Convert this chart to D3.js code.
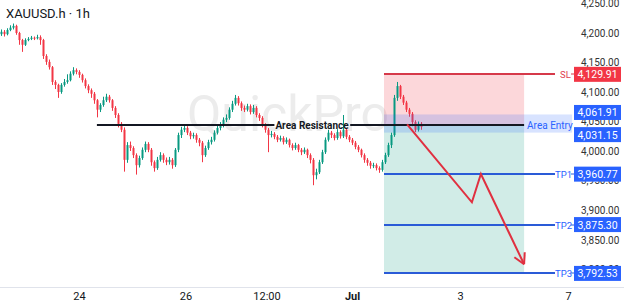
<!DOCTYPE html>
<html>
<head>
<meta charset="utf-8">
<title>XAUUSD.h 1h</title>
<style>
  body { margin:0; background:#fff; }
  svg { display:block; font-family: Roboto, "Noto Sans", sans-serif; }
</style>
</head>
<body>
<svg id="chart"></svg>
<script src="https://cdnjs.cloudflare.com/ajax/libs/d3/7.8.5/d3.min.js"></script>
<script>
// hourly candles, open = previous close
var firstOpen = 4198;
var closes = [4202,4198,4205,4209,4212,4200,4188,4180,4188,4190,4192,4191,4193,4188,4161,4151,4142,4117,4112,4100,
  4112,4117,4120,4131,4137,4134,4129,4120,4110,4103,4097,4086,4070,4078,4086,4092,4086,4073,4061,4046,
  4036,3985,4010,4005,3993,3976,3988,4002,4012,4002,3981,3971,3985,3993,3985,3981,3985,3976,4002,4027,
  4036,4039,4031,4025,4027,4019,4014,3993,4005,4015,4019,4031,4039,4044,4053,4056,4070,4080,4090,4081,
  4073,4070,4076,4066,4073,4061,4056,4044,4036,4027,4029,4024,4019,4022,4015,4019,4010,4005,4010,4002,
  3998,4002,3993,3985,3959,3964,3981,3998,4019,4031,4027,4022,4032,4025,4036,4024,4019,4014,4007,4002,
  3993,3985,3980,3975,3976,3971,3968,3981,3993,4010,4027,4090,4110,4092,4082,4070,4063,4049,4036,4046,4041];
var highs = [4206,4205,4208,4213,4216,4214,4202,4190,4191,4193,4195,4194,4197,4196,4190,4164,4155,4144,4120,4114,
  4115,4122,4130,4135,4142,4140,4137,4131,4123,4113,4106,4100,4088,4081,4092,4097,4095,4088,4076,4064,
  4049,4040,4015,4016,4008,3996,3992,4006,4016,4015,4005,3984,3990,3998,3996,3989,3990,3988,4005,4031,
  4041,4043,4042,4034,4031,4030,4022,4017,4009,4019,4024,4035,4043,4049,4057,4062,4074,4085,4095,4093,
  4084,4077,4080,4079,4078,4076,4064,4059,4047,4039,4034,4032,4027,4026,4025,4023,4021,4013,4014,4012,
  4005,4006,4004,3996,3988,3970,3985,4002,4023,4036,4034,4030,4037,4035,4061,4039,4027,4022,4017,4010,
  4004,3996,3988,3983,3980,3979,3974,3985,3997,4014,4031,4095,4117,4112,4095,4085,4073,4066,4052,4050,4049];
var lows = [4195,4194,4196,4203,4206,4197,4180,4168,4178,4186,4188,4188,4189,4180,4156,4146,4138,4112,4105,4090,
  4097,4109,4114,4118,4128,4130,4124,4116,4106,4098,4090,4080,4057,4066,4075,4083,4082,4068,4056,4040,
  4032,3965,3980,4000,3988,3960,3972,3985,3998,3998,3975,3965,3968,3982,3980,3976,3977,3970,3973,3998,
  4022,4032,4027,4020,4021,4014,4008,3981,3990,4002,4011,4016,4028,4035,4040,4049,4053,4066,4077,4077,
  4068,4066,4067,4062,4063,4057,4051,4040,4031,3998,4023,4020,4015,4016,4011,4012,4006,4001,4002,3998,
  3993,3995,3988,3979,3942,3952,3961,3978,3995,4016,4022,4018,4019,4021,4022,4020,4015,4010,4003,3998,
  3989,3980,3975,3970,3971,3967,3963,3965,3978,3990,4005,4024,4085,4088,4078,4066,4058,4042,4032,4033,4036];

var priceTicks = [4250,4200,4150,4100,4050,4000,3950,3900,3850,3800];
var timeLabels = ["24","26","12:00","Jul","3","7"];
var timeIdx = [26,61.5,88.5,117,153,189];

var levelNames = ["SL","TP1","TP2","TP3"];
var levelValues = [4129.91,3960.77,3875.30,3792.53];
var entryPrice = 4045;
var entryBand = [4031.15,4061.91];
var resistance = 4044;
var resistStart = 31.8;
var boxStart = 127.5, boxEnd = 174.2, levelEnd = 184.5, bandEnd = 190.2;
var arrowIdx = [135.2,156.8,159.8,174.2];
var arrowPx = [4045,3913,3961,3808];

var width = 624, height = 307;
var svg = d3.select("#chart").attr("width", width).attr("height", height);

var x = d3.scaleLinear().domain([0,190]).range([1.5,571.5]);
var y = d3.scaleLinear().domain([3769.5,4255.9]).range([287,0]);

// watermark
svg.append("text").attr("x",288).attr("y",131).attr("text-anchor","middle")
  .style("font-size","50px").style("fill","#ececec").text("QuickPro");

// trade box
svg.append("rect").attr("x",x(boxStart)).attr("y",y(levelValues[0]))
  .attr("width",x(boxEnd)-x(boxStart)).attr("height",y(entryPrice)-y(levelValues[0]))
  .attr("fill","rgba(242,54,69,0.2)");
svg.append("rect").attr("x",x(boxStart)).attr("y",y(entryPrice))
  .attr("width",x(boxEnd)-x(boxStart)).attr("height",y(levelValues[3])-y(entryPrice))
  .attr("fill","rgba(8,153,129,0.19)");

// candles
var candles = closes.map(function(c,i){
  return {i:i, o: i==0 ? firstOpen : closes[i-1], c:c, h:highs[i], l:lows[i]};
});
var g = svg.append("g");
g.selectAll("line").data(candles).enter().append("line")
  .attr("x1",function(d){return x(d.i);}).attr("x2",function(d){return x(d.i);})
  .attr("y1",function(d){return y(d.h);}).attr("y2",function(d){return y(d.l);})
  .attr("stroke",function(d){return d.c>=d.o ? "#089981" : "#f23645";}).attr("stroke-width",1);
g.selectAll("rect").data(candles).enter().append("rect")
  .attr("x",function(d){return x(d.i)-1;}).attr("width",2)
  .attr("y",function(d){return y(Math.max(d.o,d.c));})
  .attr("height",function(d){return Math.max(1,Math.abs(y(d.o)-y(d.c)));})
  .attr("fill",function(d){return d.c>=d.o ? "#089981" : "#f23645";});

// area entry band
svg.append("rect").attr("x",x(boxStart)).attr("y",y(entryBand[1]))
  .attr("width",x(bandEnd)-x(boxStart)).attr("height",y(entryBand[0])-y(entryBand[1]))
  .attr("fill","rgba(41,98,255,0.18)");
svg.append("text").attr("x",x(boxEnd)+3).attr("y",y(resistance)+4)
  .style("font-size","10px").style("fill","#2962ff").text("Area Entry");

// resistance line with label gap
var rl = svg.append("text").attr("x",312).attr("y",y(resistance)+4).attr("text-anchor","middle")
  .style("font-size","10px").style("font-weight","bold").style("fill","#131722").text("Area Resistance");
var bb = rl.node().getBBox();
svg.append("line").attr("x1",x(resistStart)).attr("x2",bb.x-1).attr("y1",y(resistance)).attr("y2",y(resistance))
  .attr("stroke","#131722").attr("stroke-width",2);
svg.append("line").attr("x1",bb.x+bb.width+1).attr("x2",x(boxEnd)).attr("y1",y(resistance)).attr("y2",y(resistance))
  .attr("stroke","#131722").attr("stroke-width",2);

// level lines
levelNames.forEach(function(n,k){
  var col = k==0 ? "#d6394a" : "#2a5bd7";
  var yy = Math.round(y(levelValues[k]));
  svg.append("line").attr("x1",x(boxStart)).attr("x2",x(levelEnd)).attr("y1",yy).attr("y2",yy)
    .attr("stroke",col).attr("stroke-width",2);
  svg.append("text").attr("x",k==0 ? 560 : 555).attr("y",yy+3.5)
    .style("font-size","9.5px").style("fill",k==0 ? "#e04050" : "#2962ff").text(n);
  svg.append("line").attr("x1",571).attr("x2",574).attr("y1",yy).attr("y2",yy).attr("stroke",col).attr("stroke-width",1);
});

// arrow
var pts = arrowIdx.map(function(v,k){ return [x(v), y(arrowPx[k])]; });
svg.append("path").attr("d",d3.line()(pts)).attr("fill","none")
  .attr("stroke","#e03040").attr("stroke-width",2);
var tip = pts[3], prev = pts[2];
var ang = Math.atan2(tip[1]-prev[1], tip[0]-prev[0]);
[ang+Math.PI-0.5, ang+Math.PI+0.5].forEach(function(a){
  svg.append("line").attr("x1",tip[0]).attr("y1",tip[1])
    .attr("x2",tip[0]+12*Math.cos(a)).attr("y2",tip[1]+12*Math.sin(a))
    .attr("stroke","#e03040").attr("stroke-width",2);
});

// price axis
priceTicks.forEach(function(p){
  svg.append("text").attr("x",581).attr("y",y(p)+4)
    .style("font-size","10px").style("fill","#333").text(d3.format(",.2f")(p));
});
var boxVals = [levelValues[0],entryBand[1],entryBand[0],levelValues[1],levelValues[2],levelValues[3]];
var boxCols = ["#f23645","#2962ff","#2962ff","#2962ff","#2962ff","#2962ff"];
boxVals.forEach(function(v,k){
  var yy = y(v);
  if (k==1) yy -= 2;
  if (k==2) yy += 2;
  svg.append("rect").attr("x",574).attr("y",yy-7.5).attr("width",47).attr("height",15).attr("fill",boxCols[k]);
  svg.append("text").attr("x",597.5).attr("y",yy+4).attr("text-anchor","middle")
    .style("font-size","10.5px").style("fill","#fff").text(d3.format(",.2f")(v));
});

// time axis
svg.append("line").attr("x1",0).attr("x2",width).attr("y1",287.5).attr("y2",287.5).attr("stroke","#e0e3eb");
timeLabels.forEach(function(t,k){
  svg.append("text").attr("x",x(timeIdx[k])).attr("y",300).attr("text-anchor","middle")
    .style("font-size","11px").style("fill","#131722").style("font-weight",t=="Jul" ? "bold" : "normal").text(t);
});

// title
svg.append("text").attr("x",6).attr("y",18).style("font-size","13px").style("fill","#131722").text("XAUUSD.h · 1h");
</script>
</body>
</html>
